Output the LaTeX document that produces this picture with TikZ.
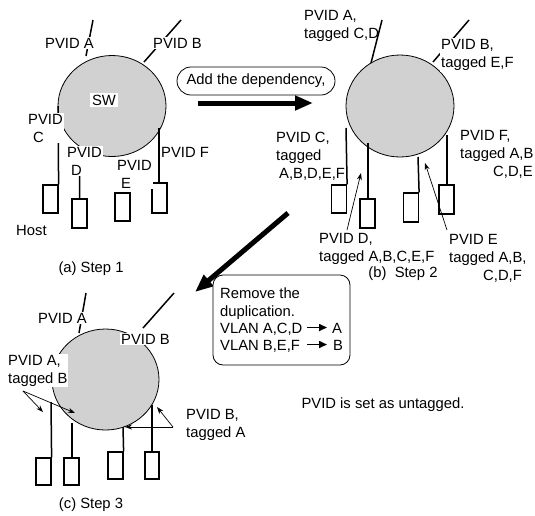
\documentclass[tikz,border=0pt]{standalone}
\usepackage{fontspec}
\setmainfont{Liberation Sans}
\usetikzlibrary{shapes.geometric,arrows.meta}
\begin{document}
\begin{tikzpicture}[x=1pt,y=-1pt,
  every node/.style={font=\fontsize{14.8}{18}\selectfont},
  sw/.style={ellipse,draw,line width=0.8pt,fill=black!18,minimum width=108pt,minimum height=101pt,inner sep=0pt},
  host/.style={draw,line width=1.2pt,fill=white,minimum width=15pt,minimum height=28pt,inner sep=0pt},
  port/.style={line width=1.5pt},
  lbl/.style={fill=white,inner sep=1pt,align=left,anchor=base west},
  ptr/.style={line width=0.7pt,-{Stealth[length=7pt,width=5pt]}},
  big/.style={line width=5pt,-{Triangle[length=18pt,width=14pt]}},
  small/.style={line width=1.6pt,-{Triangle[length=8pt,width=7pt]}},
]
\useasboundingbox (0,0) rectangle (535,515);

% ---------------- Step 1 ----------------
\node[sw] (swa) at (112,106) {};
\node[host] (a1) at (50.5,199) {};
\node[host,minimum height=29pt] (a2) at (79.5,213.5) {};
\node[host] (a3) at (122.5,207) {};
\node[host,minimum height=30pt] (a4) at (159.5,198) {};
\coordinate (aAo) at (93,20); \coordinate (aAi) at (86,56);
\coordinate (aBo) at (181,20); \coordinate (aBi) at (144,62);
\coordinate (aCi) at (58,106);
\coordinate (aDi) at (80,146);
\coordinate (aFi) at (159,128);
\draw[port] (aAo) -- (aAi);
\draw[port] (aBo) -- (aBi);
\draw[port] (aCi) -- (a1.north east);
\draw[port] (aDi) -- (a2.north);
\draw[port] (aFi) -- (aFi |- a4.north);
\node[fill=white,inner sep=2pt] (swlbl) at (104,100) {SW};
\node[lbl] (laA) at (44,48) {PVID A};
\node[lbl] (laB) at (152,48) {PVID B};
\node[lbl] (laC) at (27,142) {PVID\\\hspace*{5pt}C};
\node[lbl] (laD) at (66,175) {PVID\\\hspace*{4pt}D};
\node[lbl] (laE) at (116,188) {PVID\\\hspace*{4pt}E};
\node[lbl] (laF) at (160,157) {PVID F};
\node[lbl] (host) at (15,235) {Host};
\node (capa) at (91,269) {(a) Step 1};

% ---------------- Add the dependency ----------------
\node[draw,line width=0.8pt,rounded corners=14pt,minimum width=158pt,minimum height=28pt,inner sep=0pt] (addbox) at (256,81) {Add the dependency,};
\coordinate (addS) at (198,103); \coordinate (addE) at (313,103);
\draw[big] (addS) -- (addE);

% ---------------- Step 2 ----------------
\node[sw,minimum height=102pt] (swb) at (400,106) {};
\node[host] (b1) at (339,199) {};
\node[host,minimum height=29pt] (b2) at (367.5,213.5) {};
\node[host,minimum height=29pt] (b3) at (411,207.5) {};
\node[host,minimum height=29pt] (b4) at (446.5,199.5) {};
\coordinate (bAo) at (382,20); \coordinate (bAi) at (371,63);
\coordinate (bBo) at (469,20); \coordinate (bBi) at (433,62);
\coordinate (bCi) at (346,128);
\coordinate (bDi) at (368,143);
\coordinate (bEi) at (418,157);
\coordinate (bFi) at (447,135);
\draw[port] (bAo) -- (bAi);
\draw[port] (bBo) -- (bBi);
\draw[port] (bCi) -- (b1.north east);
\draw[port] (bDi) -- (bDi |- b2.north);
\draw[port] (bEi) -- (b3.north east);
\draw[port] (bFi) -- (bFi |- b4.north);
\node[lbl,fill=none] (lbA) at (303,38.5) {PVID A,\\tagged C,D};
\node[lbl] (lbB) at (440,67.5) {PVID B,\\tagged E,F};
\node[lbl,fill=none] (lbC) at (275,178) {PVID C,\\tagged\\\hspace*{3pt}A,B,D,E,F};
\node[lbl,fill=none] (lbF) at (459,176) {PVID F,\\tagged A,B\\\hspace*{33pt}C,D,E};
\node[lbl,fill=none] (lbD) at (318,261) {PVID D,\\tagged A,B,C,E,F};
\node[lbl,fill=none] (lbE) at (448,280) {PVID E\\tagged A,B,\\\hspace*{34pt}C,D,F};
\coordinate (pDs) at (347,230); \coordinate (pDe) at (361,173);
\coordinate (pEs) at (447,230); \coordinate (pEe) at (425,163);
\draw[ptr] (pDs) -- (pDe);
\draw[ptr] (pEs) -- (pEe);
\node (capb) at (403,274) {(b)\ \ Step 2};

% ---------------- Remove the duplication ----------------
\coordinate (remS) at (288,213); \coordinate (remE) at (195,292);
\draw[big] (remS) -- (remE);
\node[draw,line width=0.8pt,rounded corners=10pt,minimum width=137pt,minimum height=90pt,inner sep=0pt,fill=white] (rembox) at (281.5,320) {};
\node[anchor=base west,align=left,inner sep=0pt] (remtxt) at (220,316) {Remove the\\duplication.};
\node[anchor=base west,inner sep=0pt] (v1) at (220,333) {VLAN A,C,D};
\node[anchor=base west,inner sep=0pt] (t1) at (332,333) {A};
\node[anchor=base west,inner sep=0pt] (v2) at (220,350) {VLAN B,E,F};
\node[anchor=base west,inner sep=0pt] (t2) at (333,350) {B};
\coordinate (v1a) at (307,327.5); \coordinate (v1b) at (327,327.5);
\coordinate (v2a) at (307,344.5); \coordinate (v2b) at (327,344.5);
\draw[small] (v1a) -- (v1b);
\draw[small] (v2a) -- (v2b);

\node (note) at (383,405) {PVID is set as untagged.};

% ---------------- Step 3 ----------------
\node[sw,minimum width=107pt] (swc) at (105.5,379.5) {};
\node[host,minimum height=27pt] (c1) at (43.5,471.5) {};
\node[host,minimum height=27pt] (c2) at (71.5,471.5) {};
\node[host,minimum height=27pt] (c3) at (115.5,465.5) {};
\node[host,minimum height=27pt,minimum width=14pt] (c4) at (152,465.5) {};
\coordinate (cAo) at (86,293); \coordinate (cAi) at (79,333);
\coordinate (cBo) at (174,293); \coordinate (cBi) at (143,328);
\coordinate (c1i) at (51,402);
\coordinate (c2i) at (72,423);
\coordinate (c3i) at (123,427);
\coordinate (c4i) at (152,405);
\draw[port] (cAo) -- (cAi);
\draw[port] (cBo) -- (cBi);
\draw[port] (c1i) -- (c1.north east);
\draw[port] (c2i) -- (c2i |- c2.north);
\draw[port] (c3i) -- (c3.north east);
\draw[port] (c4i) -- (c4.north);
\node[lbl] (lcA) at (37,323) {PVID A};
\node[lbl] (lcB) at (120,344) {PVID B};
\node[lbl] (lcAt) at (7,383) {PVID A,\\tagged B};
\node[lbl,fill=none] (lcBt) at (185,437) {PVID B,\\tagged A};
\coordinate (pc1) at (23,391);
\coordinate (pc1a) at (43,412); \coordinate (pc1b) at (75,413);
\draw[ptr] (pc1) -- (pc1a);
\draw[ptr] (pc1) -- (pc1b);
\coordinate (pc2) at (173,427);
\coordinate (pc2a) at (157,407); \coordinate (pc2b) at (125,427);
\draw[ptr] (pc2) -- (pc2a);
\draw[ptr] (pc2) -- (pc2b);
\node (capc) at (91,505) {(c) Step 3};
\end{tikzpicture}
\end{document}
